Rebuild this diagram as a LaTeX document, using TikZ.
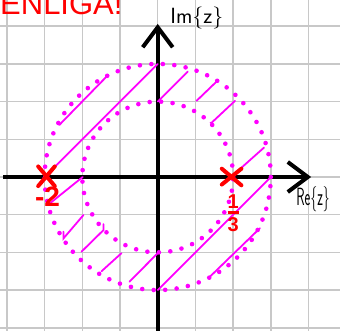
\documentclass[tikz,border=0pt]{standalone}
\usepackage{fontspec}
\newfontfamily\arialfont{Liberation Sans}
\usetikzlibrary{arrows.meta}
\definecolor{mag}{RGB}{255,0,255}
\definecolor{gridgray}{RGB}{200,200,200}
\begin{document}
\begin{tikzpicture}[x=1pt,y=-1pt,
  gridline/.style={gridgray, line width=1.5pt},
  hatch/.style={mag, line width=1.8pt, line cap=round},
  ring/.style={mag, line width=4.6pt, line cap=round, dash pattern=on 0pt off 11.5pt},
  axisline/.style={black, line width=4pt, -{Straight Barb[length=20pt,width=30pt]}},
  crossmark/.style={red, line width=4pt, line cap=round},
  handtext/.style={font=\sffamily, text=black, inner sep=0pt},
  redlabel/.style={font=\arialfont\bfseries, text=red, inner sep=0pt}]
\useasboundingbox (0,0) rectangle (340,331);
\fill[white] (0,0) rectangle (340,331);
% grid
\foreach \i in {0,...,8} {
  \draw[gridline] (6.9+37.7*\i,0) -- (6.9+37.7*\i,331);
  \draw[gridline] (0,26.2+37.7*\i) -- (340,26.2+37.7*\i);
}
% title
\node[anchor=base west, inner sep=0pt, text=red, font=\arialfont\fontsize{31}{31}\selectfont] (title) at (0,15) {ENLIGA!};
\begin{scope}[shift={(157.7,177)}, x=37.7pt, y=37.7pt]
  % axes
  \coordinate (xs) at (-4.1,0);
  \coordinate (xe) at (4.07,0);
  \coordinate (ys) at (0,-4.3);
  \coordinate (ye) at (0,4.06);
  \draw[axisline] (xs) -- (xe);
  \draw[axisline] (ys) -- (ye);
  % rings
  \draw[ring] (0,0) circle[radius=3];
  \draw[ring] (0,0) circle[radius=2];
  % hatching
  \draw[hatch] (-3,0) -- (0,3);
  \draw[hatch] (0,2) -- (0.8,2.8);
  \draw[hatch] (1.03,2.02) -- (1.56,2.53);
  \draw[hatch] (1.40,1.44) -- (1.43,1.44) -- (2.05,2.02);
  \draw[hatch] (2.0,0.05) -- (2.82,0.78);
  \draw[hatch] (-2.61,1.38) -- (-1.34,2.68);
  \draw[hatch] (-1.99,0) -- (-2.86,-0.70);
  \draw[hatch] (-2.5,-1.45) -- (-2.5,-1.63) -- (-1.97,-1.01);
  \draw[hatch] (-2.02,-1.98) -- (-1.44,-1.41) -- (-1.44,-1.25);
  \draw[hatch] (-1.49,-2.50) -- (-0.96,-2.02);
  \draw[hatch] (-0.75,-2.78) -- (0.0,-2.02);
  \draw[hatch] (0,-3) -- (3,0);
  \draw[hatch] (1.39,-2.64) -- (2.71,-1.36);
  % labels
  \node[handtext, font=\sffamily\fontsize{22}{22}\selectfont] (imlab) at (1.04,4.22) {Im\{z\}};
  \node[handtext, font=\sffamily\fontsize{25}{25}\selectfont, xscale=0.55] (relab) at (4.12,-0.6) {Re\{z\}};
  % crosses
  \coordinate (p1) at (-2.95,0.02);
  \coordinate (p2) at (1.96,0.0);
  \draw[crossmark] ([shift={(-0.22,0.26)}]p1) -- ([shift={(0.22,-0.26)}]p1);
  \draw[crossmark] ([shift={(-0.22,-0.26)}]p1) -- ([shift={(0.22,0.26)}]p1);
  \draw[crossmark] ([shift={(-0.26,0.22)}]p2) -- ([shift={(0.26,-0.22)}]p2);
  \draw[crossmark] ([shift={(-0.26,-0.2)}]p2) -- ([shift={(0.26,0.22)}]p2);
  \node[redlabel, font=\arialfont\bfseries\fontsize{28}{28}\selectfont] (lm2) at (-2.92,-0.53) {-2};
  \node[redlabel, font=\arialfont\bfseries\fontsize{20}{20}\selectfont] (lthird) at (2.0,-0.95) {\shortstack{1\\[0pt]\rule{11pt}{3pt}\\[0pt]3}};
\end{scope}
\end{tikzpicture}
\end{document}
